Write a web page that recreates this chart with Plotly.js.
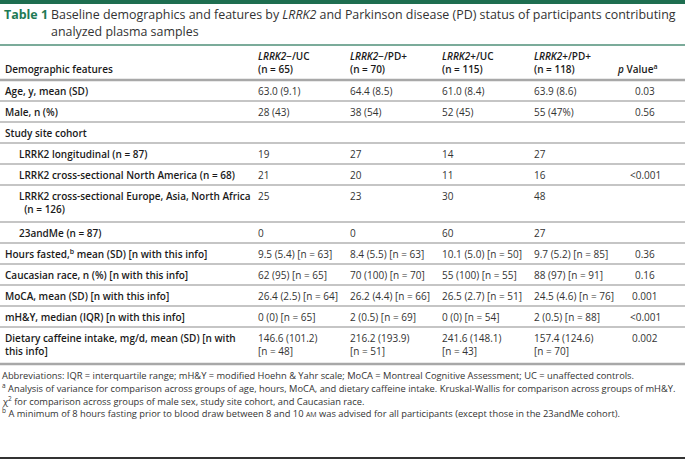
<!DOCTYPE html>
<html>
<head>
<meta charset="utf-8">
<script src="https://cdn.plot.ly/plotly-3.0.1.min.js"></script>
<style>html,body{margin:0;padding:0;background:#fff;}#chart{width:685px;height:460px;}</style>
</head>
<body>
<div id="chart"></div>
<script>
// ---- Data ----
const titleLabel = 'Table 1';
const titleLine1 = 'Baseline demographics and features by <i>LRRK2</i> and Parkinson disease (PD) status of participants contributing';
const titleLine2 = 'analyzed plasma samples';
const firstHeader = 'Demographic features';
const groupNames = ['<i>LRRK2</i>−/UC', '<i>LRRK2</i>−/PD+', '<i>LRRK2</i>+/UC', '<i>LRRK2</i>+/PD+'];
const groupN = ['(n = 65)', '(n = 70)', '(n = 115)', '(n = 118)'];
const pHeader = '<i>p</i> Value<sup>a</sup>';

const rowLabels = [
  'Age, y, mean (SD)',
  'Male, n (%)',
  'Study site cohort',
  'LRRK2 longitudinal (n = 87)',
  'LRRK2 cross-sectional North America (n = 68)',
  'LRRK2 cross-sectional Europe, Asia, North Africa<br>  (n = 126)',
  '23andMe (n = 87)',
  'Hours fasted,<sup>b</sup> mean (SD) [n with this info]',
  'Caucasian race, n (%) [n with this info]',
  'MoCA, mean (SD) [n with this info]',
  'mH&Y, median (IQR) [n with this info]',
  'Dietary caffeine intake, mg/d, mean (SD) [n with<br>this info]'
];
const rowIndent = [0, 0, 0, 1, 1, 1, 1, 0, 0, 0, 0, 0];
const rowLines = [1, 1, 1, 1, 1, 2, 1, 1, 1, 1, 1, 2];

const ucNeg = ['63.0 (9.1)', '28 (43)', '', '19', '21', '25', '0', '9.5 (5.4) [n = 63]', '62 (95) [n = 65]', '26.4 (2.5) [n = 64]', '0 (0) [n = 65]', '146.6 (101.2)<br>[n = 48]'];
const pdNeg = ['64.4 (8.5)', '38 (54)', '', '27', '20', '23', '0', '8.4 (5.5) [n = 63]', '70 (100) [n = 70]', '26.2 (4.4) [n = 66]', '2 (0.5) [n = 69]', '216.2 (193.9)<br>[n = 51]'];
const ucPos = ['61.0 (8.4)', '52 (45)', '', '14', '11', '30', '60', '10.1 (5.0) [n = 50]', '55 (100) [n = 55]', '26.5 (2.7) [n = 51]', '0 (0) [n = 54]', '241.6 (148.1)<br>[n = 43]'];
const pdPos = ['63.9 (8.6)', '55 (47%)', '', '27', '16', '48', '27', '9.7 (5.2) [n = 85]', '88 (97) [n = 91]', '24.5 (4.6) [n = 76]', '2 (0.5) [n = 88]', '157.4 (124.6)<br>[n = 70]'];
const pValues = ['0.03', '0.56', '', '', '<0.001', '', '', '0.36', '0.16', '0.001', '<0.001', '0.002'];

const footnotes = [
  'Abbreviations: IQR = interquartile range; mH&Y = modified Hoehn & Yahr scale; MoCA = Montreal Cognitive Assessment; UC = unaffected controls.',
  '<sup>a</sup> Analysis of variance for comparison across groups of age, hours, MoCA, and dietary caffeine intake. Kruskal-Wallis for comparison across groups of mH&Y.',
  'χ<sup>2</sup> for comparison across groups of male sex, study site cohort, and Caucasian race.',
  '<sup>b</sup> A minimum of 8 hours fasting prior to blood draw between 8 and 10 <span style="font-size:7px">AM</span> was advised for all participants (except those in the 23andMe cohort).'
];

// ---- Layout / style ----
const W = 685, H = 460;
const FONT = 'Open Sans, sans-serif';
const green = '#1e6e50';
const textCol = '#333333';
const labelCol = '#1a1a1a';
const colX = [256, 348, 440, 532];
const pX = 645;
const headerTop = 45, headerBottom = 80;
const singleH = 21, lineH = 13;
const textSize = 10;

// fit a font size so a plain-text line spans a target width (style only)
const ctx = document.createElement('canvas').getContext('2d');
function fitSize(html, target, weight, lo, hi) {
  const plain = html.replace(/<[^>]+>/g, '');
  ctx.font = weight + ' 20px "Open Sans"';
  const w = ctx.measureText(plain).width;
  const s = 20 * target / w;
  return Math.max(lo, Math.min(hi, s));
}
const titleSize = fitSize(titleLine1, 628, 400, 11.5, 13.2);
const footSize = fitSize(footnotes[1], 676, 400, 8.3, 9.8);

const ann = [];
const shapes = [];
const semi = (sz, col) => ({family: FONT, size: sz, color: col, weight: 600});

// top bar
shapes.push({type: 'rect', x0: 0, x1: W, y0: 0, y1: 4, fillcolor: green, line: {width: 0}});
// title
ann.push({x: 2, y: 14, text: titleLabel, xanchor: 'left', yanchor: 'middle', showarrow: false, font: {family: FONT, size: titleSize, color: '#1e7a55', weight: 700}});
ann.push({x: 49, y: 14, text: titleLine1, xanchor: 'left', yanchor: 'middle', showarrow: false, font: {family: FONT, size: titleSize, color: textCol}});
ann.push({x: 49, y: 31, text: titleLine2, xanchor: 'left', yanchor: 'middle', showarrow: false, font: {family: FONT, size: titleSize, color: textCol}});

// header rule
shapes.push({type: 'line', x0: 0, x1: W, y0: headerTop, y1: headerTop, line: {color: '#4f8f78', width: 1.5}});
ann.push({x: 3, y: 69, text: firstHeader, xanchor: 'left', yanchor: 'middle', showarrow: false, font: semi(textSize, labelCol)});
groupNames.forEach((g, i) => {
  ann.push({x: colX[i], y: 56, text: g, xanchor: 'left', yanchor: 'middle', showarrow: false, font: semi(textSize, labelCol)});
  ann.push({x: colX[i], y: 69, text: groupN[i], xanchor: 'left', yanchor: 'middle', showarrow: false, font: semi(textSize, labelCol)});
});
ann.push({x: pX - 8, y: 69, text: pHeader, xanchor: 'center', yanchor: 'middle', showarrow: false, font: semi(textSize, labelCol)});
shapes.push({type: 'line', x0: 0, x1: W, y0: headerBottom, y1: headerBottom, line: {color: '#a8a8a8', width: 2.5}});

// body
let rowTop = headerBottom;
const groupsData = [ucNeg, pdNeg, ucPos, pdPos];
rowLabels.forEach((lab, r) => {
  const h = singleH + (rowLines[r] - 1) * (lineH + 3);
  const yText = rowTop + 10.5;
  const addCell = (x, txt, anchor, bold) => {
    if (!txt) return;
    const nLines = txt.split('<br>').length;
    const yc = yText + (nLines - 1) * lineH / 2;
    ann.push({x: x, y: yc, text: txt, xanchor: anchor, yanchor: 'middle', align: 'left', showarrow: false,
      font: bold ? semi(textSize, labelCol) : {family: FONT, size: textSize, color: textCol}});
  };
  addCell(rowIndent[r] ? 17 : 3, lab, 'left', true);
  groupsData.forEach((g, i) => addCell(colX[i], g[r], 'left', false));
  addCell(pX, pValues[r], 'center', false);
  rowTop += h;
  const last = r === rowLabels.length - 1;
  shapes.push({type: 'line', x0: 0, x1: W, y0: rowTop, y1: rowTop, line: {color: last ? '#a8a8a8' : '#8c8c8c', width: last ? 2.5 : 1.2}});
});

// footnotes
const footY = [375, 388, 400.5, 413];
footnotes.forEach((f, i) => {
  ann.push({x: 0, y: footY[i], text: f, xanchor: 'left', yanchor: 'middle', showarrow: false, font: {family: FONT, size: footSize, color: textCol}});
});
shapes.push({type: 'line', x0: 0, x1: W, y0: 458, y1: 458, line: {color: '#333333', width: 2}});

const layout = {
  width: W, height: H,
  margin: {l: 0, r: 0, t: 0, b: 0},
  paper_bgcolor: '#ffffff', plot_bgcolor: '#ffffff',
  xaxis: {range: [0, W], visible: false, fixedrange: true},
  yaxis: {range: [H, 0], visible: false, fixedrange: true},
  showlegend: false,
  annotations: ann,
  shapes: shapes
};
Plotly.newPlot('chart', [{x: [], y: [], type: 'scatter', mode: 'markers'}], layout, {displayModeBar: false, staticPlot: true});
</script>
</body>
</html>
